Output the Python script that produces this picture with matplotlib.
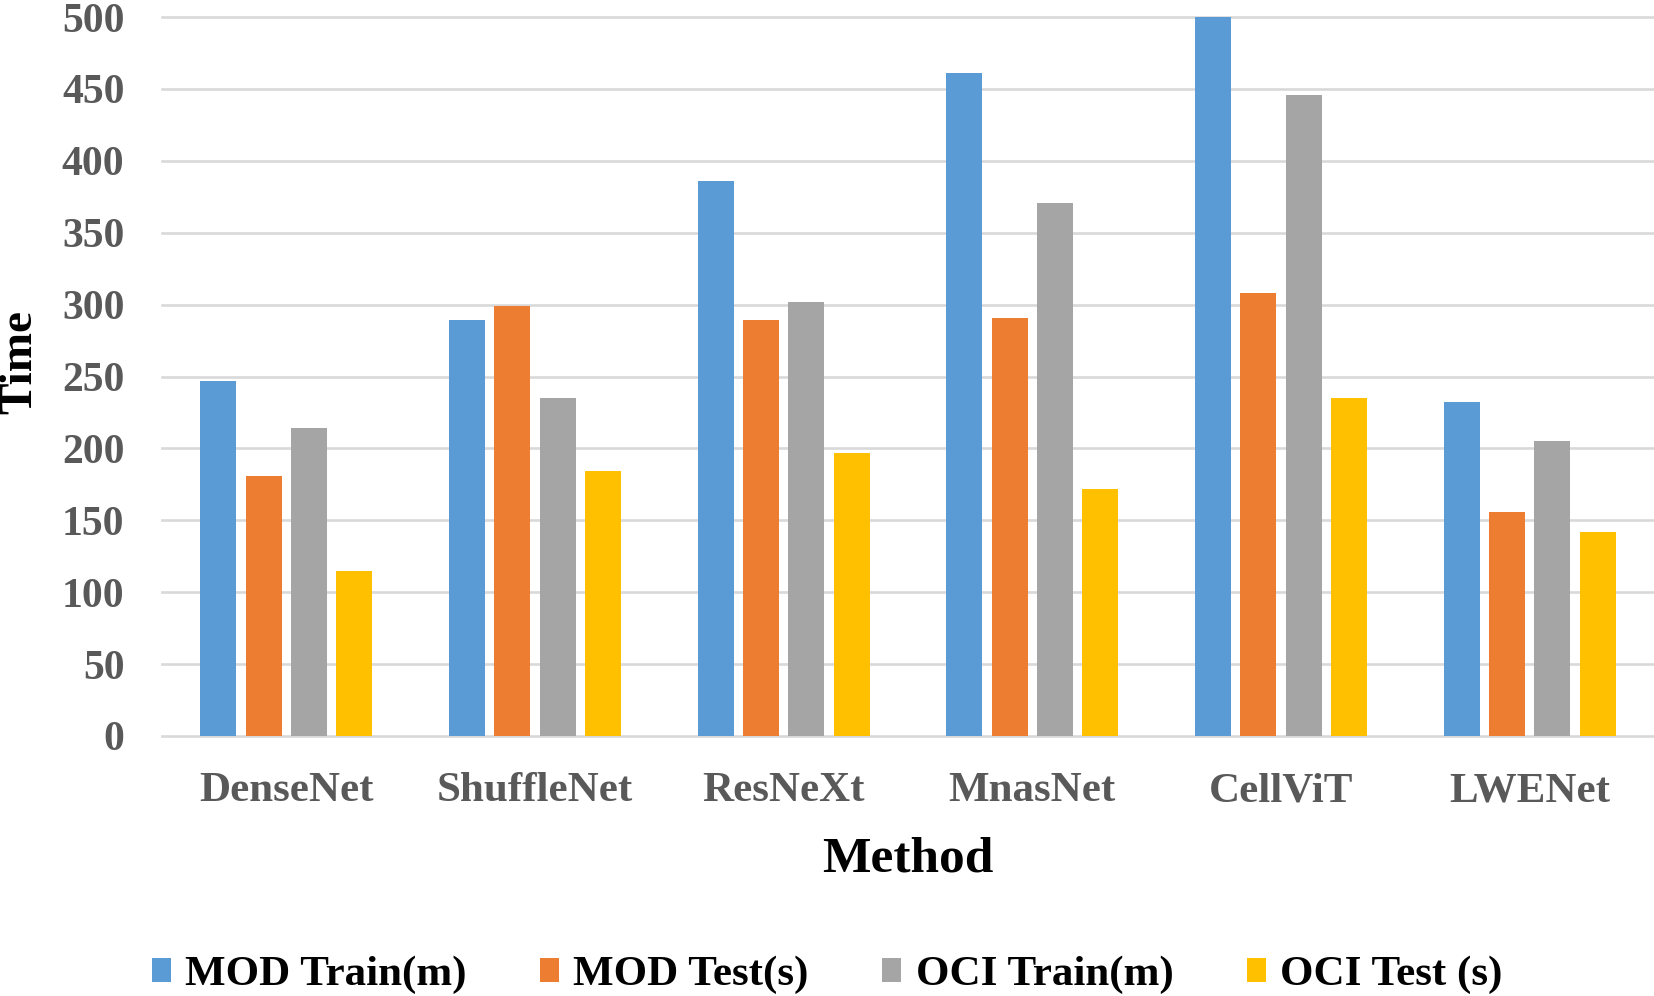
import matplotlib
matplotlib.use("Agg")
import matplotlib.pyplot as plt
import numpy as np
from matplotlib.patches import Patch

categories = ["DenseNet", "ShuffleNet", "ResNeXt", "MnasNet", "CellViT", "LWENet"]
series_names = ["MOD Train(m)", "MOD Test(s)", "OCI Train(m)", "OCI Test (s)"]
mod_train = [247, 289, 386, 461, 500, 232]
mod_test = [181, 299, 289, 291, 308, 156]
oci_train = [214, 235, 302, 371, 446, 205]
oci_test = [115, 184, 197, 172, 235, 142]
yticks = [0, 50, 100, 150, 200, 250, 300, 350, 400, 450, 500]

colors = ["#5B9BD5", "#ED7D31", "#A5A5A5", "#FFC000"]
series = [mod_train, mod_test, oci_train, oci_test]

plt.rcParams["font.family"] = ["Liberation Serif", "DejaVu Serif"]
plt.rcParams["font.weight"] = "bold"

fig = plt.figure(figsize=(16.54, 9.96), dpi=100)
ax = fig.add_axes([162/1654, 1-736/996, 1-162/1654, (736-17)/996])

x = np.arange(len(categories))
bw = 0.145
step = 0.182
for i, (vals, c) in enumerate(zip(series, colors)):
    ax.bar(x + (i - 1.5) * step, vals, width=bw, color=c, zorder=3)

ax.set_xlim(-0.5, len(categories) - 0.5)
ax.set_ylim(0, 500)
ax.set_yticks(yticks)
ax.set_yticklabels([str(v) for v in yticks])
ax.set_xticks(x)
ax.set_xticklabels(categories)
ax.grid(axis="y", color="#D9D9D9", linewidth=1.9, zorder=0)
for gl in ax.get_ygridlines():
    gl.set_clip_on(False)
ax.set_axisbelow(True)
for s in ax.spines.values():
    s.set_visible(False)
ax.tick_params(axis="y", length=0, pad=27, labelsize=30, labelcolor="#595959")
ax.tick_params(axis="x", length=0, pad=26, labelsize=31, labelcolor="#595959")
for lab in ax.get_xticklabels() + ax.get_yticklabels():
    lab.set_fontweight("bold")

ax.set_xlabel("Method", fontsize=37, fontweight="bold", color="black")
ax.xaxis.set_label_coords(0.5, (736-872)/719)
ax.xaxis.label.set_va("baseline")

ax.set_ylabel("Time", fontsize=34, fontweight="bold", color="black")
ax.yaxis.set_label_coords((20-162)/1492, 0.52)
ax.yaxis.label.set_va("center")
ax.yaxis.label.set_ha("center")
ax.yaxis.label.set_rotation_mode("default")

handles = [Patch(facecolor=c, edgecolor="none") for c in colors]
leg = fig.legend(handles, series_names, loc="center", bbox_to_anchor=(0.5, 1-975/996),
                 ncol=4, frameon=False, fontsize=31, handlelength=0.45, handleheight=0.5,
                 handletextpad=0.33, columnspacing=1.7, borderpad=0)
for t in leg.get_texts():
    t.set_fontweight("bold")
    t.set_color("black")

fig.savefig("out.png", dpi=100)
